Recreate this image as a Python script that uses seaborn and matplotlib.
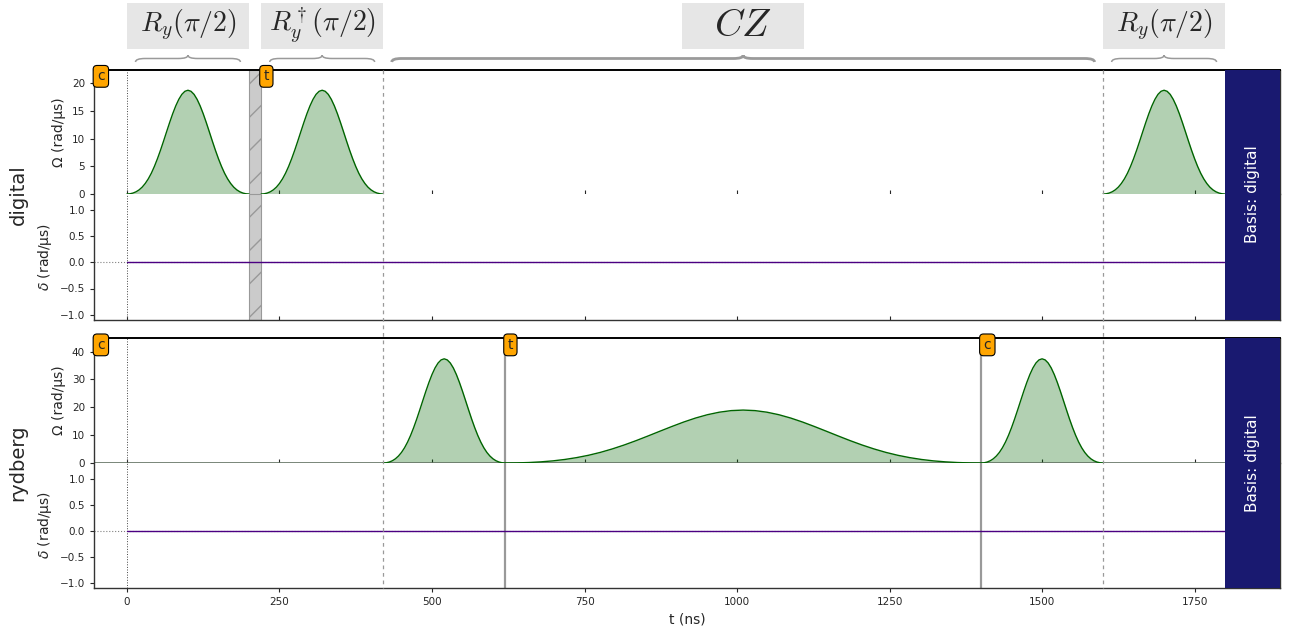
import matplotlib
matplotlib.use("Agg")
import matplotlib.pyplot as plt
import matplotlib.transforms as mtransforms
from matplotlib.patches import Rectangle, PathPatch
from matplotlib.path import Path
from matplotlib.lines import Line2D
import seaborn as sns

# ---- sequence data ----
total_time = 1800
channel_names = ["digital", "rydberg"]
basis_name = "digital"

# pulse samples: omega in rad/us at offsets (ns) from the pulse start
short_offsets = [i * 5 for i in range(41)]           # 200 ns pulses
long_offsets = [i * 19.5 for i in range(41)]         # 780 ns pulse
half_pi_omega = [0, 0.04, 0.17, 0.40, 0.75, 1.24, 1.90, 2.73, 3.75, 4.97, 6.36,
                 7.89, 9.53, 11.22, 12.89, 14.47, 15.88, 17.06, 17.96, 18.51, 18.70,
                 18.51, 17.96, 17.06, 15.88, 14.47, 12.89, 11.22, 9.53, 7.89, 6.36,
                 4.97, 3.75, 2.73, 1.90, 1.24, 0.75, 0.40, 0.17, 0.04, 0]
pi_omega = [0, 0.08, 0.34, 0.80, 1.50, 2.49, 3.79, 5.46, 7.51, 9.94, 12.72,
            15.79, 19.07, 22.44, 25.78, 28.93, 31.76, 34.13, 35.91, 37.02, 37.40,
            37.02, 35.91, 34.13, 31.76, 28.93, 25.78, 22.44, 19.07, 15.79, 12.72,
            9.94, 7.51, 5.46, 3.79, 2.49, 1.50, 0.80, 0.34, 0.08, 0]
two_pi_omega = [0, 0.04, 0.17, 0.41, 0.76, 1.26, 1.93, 2.77, 3.81, 5.05, 6.46,
                8.02, 9.69, 11.40, 13.09, 14.70, 16.14, 17.34, 18.24, 18.81, 19.00,
                18.81, 18.24, 17.34, 16.14, 14.70, 13.09, 11.40, 9.69, 8.02, 6.46,
                5.05, 3.81, 2.77, 1.93, 1.26, 0.76, 0.41, 0.17, 0.04, 0]

digital_starts = [0, 220, 1600]
rydberg_starts = [420, 620, 1400]

detuning_times = [0, total_time]
detuning_values = [0, 0]

digital_target_times = [0, 220]
digital_target_labels = ["c", "t"]
digital_retarget = [200, 220]
rydberg_target_times = [0, 620, 1400]
rydberg_target_labels = ["c", "t", "c"]

align_times = [420, 1600]

gate_labels = [r"$R_y(\pi/2)$", r"$R_y^\dagger(\pi/2)$", r"$CZ$", r"$R_y(\pi/2)$"]
gate_starts = [0, 220, 420, 1600]
gate_ends = [200, 420, 1600, 1800]
gate_fontsizes = [20, 20, 28, 20]

x_ticks = [0, 250, 500, 750, 1000, 1250, 1500, 1750]
digital_omega_ticks = [0, 5, 10, 15, 20]
rydberg_omega_ticks = [0, 10, 20, 30, 40]
delta_ticks = [-1.0, -0.5, 0.0, 0.5, 1.0]

# ---- figure ----
sns.set_style("ticks")
plt.rcParams["font.family"] = ["DejaVu Sans"]

W, H = 1290, 630
fig = plt.figure(figsize=(W / 100, H / 100), dpi=100)
xlim = (-0.03 * total_time, 1.05 * total_time)
left, right = 94 / W, 1280 / W
rows = [(69.5, 194, 320), (338, 463, 588)]  # top, middle, bottom (px)

pulse_sets = {
    "digital": [(s, short_offsets, half_pi_omega) for s in digital_starts],
    "rydberg": [(rydberg_starts[0], short_offsets, pi_omega),
                (rydberg_starts[1], long_offsets, two_pi_omega),
                (rydberg_starts[2], short_offsets, pi_omega)],
}
omega_ticks = {"digital": digital_omega_ticks, "rydberg": rydberg_omega_ticks}
targets = {"digital": (digital_target_times, digital_target_labels),
           "rydberg": (rydberg_target_times, rydberg_target_labels)}

all_axes = []
for ch, (top, mid, bot) in zip(channel_names, rows):
    ax_o = fig.add_axes([left, 1 - mid / H, right - left, (mid - top) / H])
    ax_d = fig.add_axes([left, 1 - bot / H, right - left, (bot - mid) / H], sharex=ax_o)
    all_axes.append((ax_o, ax_d))

    # amplitude
    peak = 0
    for start, offs, vals in pulse_sets[ch]:
        t = [start + o for o in offs]
        sns.lineplot(x=t, y=vals, ax=ax_o, color="darkgreen", lw=1, zorder=2)
        ax_o.fill_between(t, vals, color="darkgreen", alpha=0.3, lw=0)
        peak = max(peak, max(vals))
    if ch == "rydberg":
        ax_o.axhline(0, color="#627262", lw=1.2, zorder=1)
    ax_o.set_ylim(0, 1.2 * peak)
    ax_o.set_yticks(omega_ticks[ch])
    ax_o.set_ylabel("Ω (rad/µs)", fontsize=10)

    # detuning
    ax_d.axhline(0, color="grey", ls=":", lw=0.8, zorder=1)
    sns.lineplot(x=detuning_times, y=detuning_values, ax=ax_d, color="indigo", lw=1, zorder=2)
    ax_d.set_ylim(-1.1, 1.3)
    ax_d.set_yticks(delta_ticks)
    ax_d.set_ylabel(r"$\delta$ (rad/µs)", fontsize=10)

    for ax in (ax_o, ax_d):
        ax.set_xlim(*xlim)
        ax.set_xticks(x_ticks)
        ax.tick_params(labelsize=7.5, length=3)
        ax.axvspan(total_time, xlim[1], color="midnightblue", lw=0, zorder=3)
        ax.axvline(0, color="#444444", ls=":", lw=0.7, zorder=1)
        for s in ax.spines.values():
            s.set_color("#333333")
            s.set_linewidth(1.0)
    ax_o.spines["bottom"].set_visible(False)
    ax_d.spines["top"].set_visible(False)
    ax_o.spines["top"].set_color("black")
    ax_o.spines["top"].set_linewidth(1.4)
    ax_o.tick_params(axis="x", direction="in", labelbottom=False)
    ax_d.set_xlabel("")
    ax_o.set_xlabel("")

    # target changes
    tt, tl = targets[ch]
    trans_o = mtransforms.blended_transform_factory(ax_o.transData, ax_o.transAxes)
    for t, lab in zip(tt, tl):
        if ch == "rydberg" and t > 0:
            for ax in (ax_o, ax_d):
                ax.axvline(t, color="grey", lw=1.6, alpha=0.8, zorder=1)
        xpos = t + 4 if t > 0 else xlim[0] + 5
        ax_o.text(xpos, 0.945, lab, transform=trans_o, ha="left", va="center",
                  fontsize=10, zorder=6, clip_on=False,
                  bbox=dict(boxstyle="round,pad=0.28", facecolor="orange",
                            edgecolor="black", lw=0.8))
    if ch == "digital":
        for ax in (ax_o, ax_d):
            ax.axvspan(digital_retarget[0], digital_retarget[1], facecolor="#cbcbcb",
                       edgecolor="#999999", hatch="/", lw=0.8, zorder=1)

    # basis box text
    trans_d = mtransforms.blended_transform_factory(ax_d.transData, ax_d.transAxes)
    ax_d.text((total_time + xlim[1]) / 2, 1.0, f"Basis: {basis_name}", transform=trans_d,
              rotation=90, color="white", ha="center", va="center", fontsize=11,
              zorder=6, clip_on=False)

    fig.text(18 / W, 1 - (top + bot) / 2 / H, ch, rotation=90, ha="center",
             va="center", fontsize=14)

all_axes[0][1].tick_params(axis="x", direction="in", labelbottom=False)
bottom_ax = all_axes[1][1]
bottom_ax.set_xlabel("t (ns)", fontsize=10)
fig.align_ylabels([a for pair in all_axes for a in pair])

# alignment lines across both channels
top_ax = all_axes[0][0]
btrans = mtransforms.blended_transform_factory(top_ax.transData, fig.transFigure)
for t in align_times:
    fig.add_artist(Line2D([t, t], [1 - 69.5 / H, 1 - 588 / H], transform=btrans,
                          color="#9a9a9a", ls=(0, (3, 3)), lw=0.9, zorder=5))

# gate label boxes and braces
box_w = 200
y_end, y_body, y_tip = 1 - 62 / H, 1 - 58.5 / H, 1 - 55.3 / H
for lab, s, e, fs in zip(gate_labels, gate_starts, gate_ends, gate_fontsizes):
    c = (s + e) / 2
    fig.add_artist(Rectangle((c - box_w / 2, 1 - 49 / H), box_w, 46.5 / H,
                             transform=btrans, facecolor="#e6e6e6", edgecolor="none"))
    fig.text(c, 1 - 25.5 / H, lab, transform=btrans, ha="center", va="center",
             fontsize=fs, math_fontfamily="cm")
    x0, x1, r = s + 14, e - 14, 16
    verts = [(x0, y_end), (x0, y_body), (x0 + r, y_body),
             (c - r, y_body), (c, y_body), (c, y_tip),
             (c, y_body), (c + r, y_body),
             (x1 - r, y_body), (x1, y_body), (x1, y_end)]
    codes = [Path.MOVETO, Path.CURVE3, Path.CURVE3,
             Path.LINETO, Path.CURVE3, Path.CURVE3,
             Path.CURVE3, Path.CURVE3,
             Path.LINETO, Path.CURVE3, Path.CURVE3]
    fig.add_artist(PathPatch(Path(verts, codes), transform=btrans, facecolor="none",
                             edgecolor="#9a9a9a", lw=2.0 if lab == "$CZ$" else 1.1))

fig.savefig("out.png", dpi=100)
